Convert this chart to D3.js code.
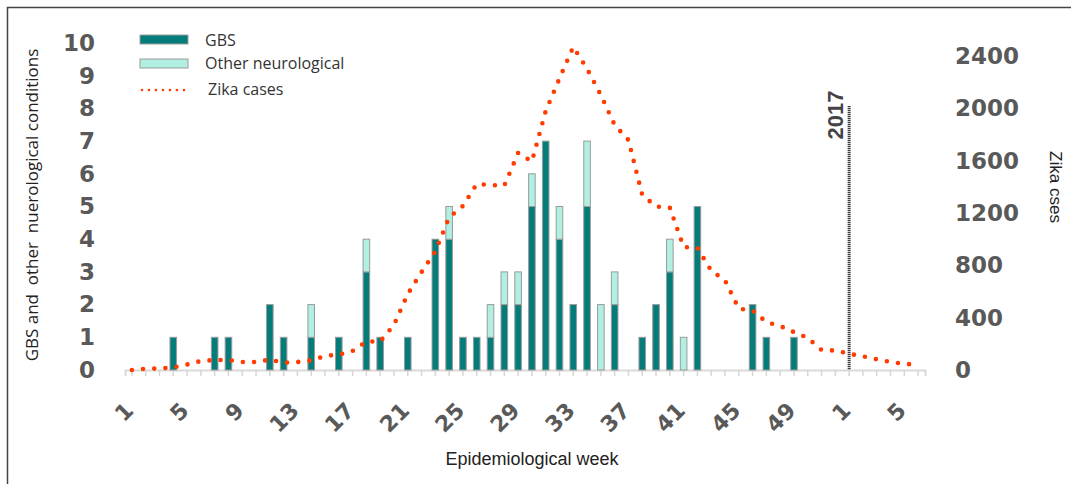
<!DOCTYPE html>
<html>
<head>
<meta charset="utf-8">
<script src="https://cdn.jsdelivr.net/npm/d3@7/dist/d3.min.js"></script>
<style>
  body { margin: 0; background: #fff; }
  svg { display: block; }
</style>
</head>
<body>
<div id="chart"></div>
<script>
// week labels: 2016 weeks 1-52, then 2017 weeks 1-6
const weekLabels = ["1","2","3","4","5","6","7","8","9","10","11","12","13","14","15","16","17","18","19","20",
  "21","22","23","24","25","26","27","28","29","30","31","32","33","34","35","36","37","38","39","40",
  "41","42","43","44","45","46","47","48","49","50","51","52","1","2","3","4","5","6"];

const gbsCases = [0,0,0,1,0,0,1,1,0,0, 2,1,0,1,0,1,0,3,1,0, 1,0,4,4,1,1,1,2,2,5,
  7,4,2,5,0,2,0,1,2,3, 0,5,0,0,0,2,1,0,1,0, 0,0, 0,0,0,0,0,0];

const otherCases = [0,0,0,0,0,0,0,0,0,0, 0,0,0,1,0,0,0,1,0,0, 0,0,0,1,0,0,1,1,1,1,
  0,1,0,2,2,1,0,0,0,1, 1,0,0,0,0,0,0,0,0,0, 0,0, 0,0,0,0,0,0];

const zikaCases = [0,10,11,19,42,69,76,76,61,61, 80,56,61,73,107,118,145,218,218,344,
  581,749,906,1167,1254,1422,1414,1409,1659,1594, 1980,2229,2470,2303,2102,1873,1758,1338,1250,1241,
  940,933,760,685,469,455,367,336,290,245, 153,149, 124,105,82,61,47,40];

const leftTicks = [0,1,2,3,4,5,6,7,8,9,10];
const rightTicks = [0,400,800,1200,1600,2000,2400];
const labelEvery = 4;
const yearMarkIndex = 52; // first week of 2017

const W = 1071, H = 484;
const svg = d3.select("#chart").append("svg")
    .attr("width", W)
    .attr("height", H);

svg.append("rect").attr("width", W).attr("height", H).attr("fill", "#fff");

// frame (top + left)
svg.append("path")
    .attr("d", "M7.5," + H + "V7.5H" + W)
    .attr("fill", "none")
    .attr("stroke", "#444")
    .attr("stroke-width", 1.5);

const idx = d3.range(weekLabels.length);

const x = d3.scaleBand()
    .domain(idx)
    .range([125, 925])
    .padding(0);

const yL = d3.scaleLinear().domain([0, 10]).range([370, 43]);
const yR = d3.scaleLinear().domain([0, 2500]).range([370, 43]);

const teal = "#047c79";
const mint = "#b0efe1";
const zikaColor = "#ff3b00";

// x axis
const xAxis = svg.append("g")
    .attr("transform", "translate(0,370)")
    .call(d3.axisBottom(x)
        .tickSize(6)
        .tickSizeOuter(6)
        .tickFormat(i => i % labelEvery === 0 ? weekLabels[i] : ""));

xAxis.select(".domain").attr("stroke", "#d9d9d9").attr("stroke-width", 2);
xAxis.selectAll(".tick line").attr("stroke", "#d6d6d6").attr("stroke-width", 1.5);
xAxis.selectAll(".tick text")
    .attr("x", 0).attr("y", 0).attr("dy", 0)
    .attr("transform", "translate(3,42) rotate(-45)")
    .attr("text-anchor", "end")
    .attr("fill", "#595959")
    .attr("font-family", "DejaVu Sans")
    .attr("font-weight", "bold")
    .attr("font-size", 22);

// stacked bars
const table = idx.map(i => ({ i: i, gbs: gbsCases[i], other: otherCases[i] }));
const stacked = d3.stack().keys(["gbs", "other"])(table);
const bw = 6.6;

svg.append("g").selectAll("g")
    .data(stacked)
    .join("g")
    .attr("fill", d => d.key === "gbs" ? teal : mint)
    .selectAll("rect")
    .data(d => d.filter(s => s[1] > s[0]))
    .join("rect")
    .attr("x", s => x(s.data.i) + x.bandwidth() / 2 - bw / 2)
    .attr("width", bw)
    .attr("y", s => yL(s[1]))
    .attr("height", s => yL(s[0]) - yL(s[1]))
    .attr("stroke", "#9b9b9b")
    .attr("stroke-width", 1);

// 2017 marker
const xm = x(yearMarkIndex) + x.bandwidth() / 2;
svg.append("line")
    .attr("x1", xm).attr("x2", xm)
    .attr("y1", 106).attr("y2", 370)
    .attr("stroke", "#3a3a3a")
    .attr("stroke-width", 3)
    .attr("stroke-dasharray", "1.2,0.8");

svg.append("text")
    .attr("transform", "translate(" + (xm - 6) + ",115) rotate(-90)")
    .attr("text-anchor", "middle")
    .attr("fill", "#444")
    .attr("font-family", "Liberation Sans")
    .attr("font-weight", "bold")
    .attr("font-size", 22)
    .text("2017");

// zika line
const line = d3.line()
    .x((d, i) => x(i) + x.bandwidth() / 2)
    .y(d => yR(d));

svg.append("path")
    .datum(zikaCases)
    .attr("d", line)
    .attr("fill", "none")
    .attr("stroke", zikaColor)
    .attr("stroke-width", 4.6)
    .attr("stroke-linecap", "round")
    .attr("stroke-dasharray", "0,11.2");

// left axis labels
const leftAxis = svg.append("g")
    .attr("transform", "translate(95,0)")
    .call(d3.axisLeft(yL).tickValues(leftTicks).tickSize(0).tickPadding(0));
leftAxis.select(".domain").remove();
leftAxis.selectAll("text")
    .attr("fill", "#595959")
    .attr("font-family", "DejaVu Sans")
    .attr("font-weight", "bold")
    .attr("font-size", 23);

// right axis labels
const rightAxis = svg.append("g")
    .attr("transform", "translate(955,0)")
    .call(d3.axisRight(yR).tickValues(rightTicks).tickFormat(d3.format("d")).tickSize(0).tickPadding(0));
rightAxis.select(".domain").remove();
rightAxis.selectAll("text")
    .attr("fill", "#595959")
    .attr("font-family", "DejaVu Sans")
    .attr("font-weight", "bold")
    .attr("font-size", 23);

// axis titles
svg.append("text")
    .attr("transform", "translate(38,205) rotate(-90)")
    .attr("text-anchor", "middle")
    .attr("fill", "#222")
    .attr("font-family", "Open Sans")
    .attr("font-size", 17)
    .style("white-space", "pre")
    .text("GBS and  other  nuerological conditions");

svg.append("text")
    .attr("transform", "translate(1050,187) rotate(90)")
    .attr("text-anchor", "middle")
    .attr("fill", "#222")
    .attr("font-family", "Liberation Sans")
    .attr("font-size", 17)
    .text("Zika cses");

svg.append("text")
    .attr("x", 532)
    .attr("y", 465)
    .attr("text-anchor", "middle")
    .attr("fill", "#222")
    .attr("font-family", "Liberation Sans")
    .attr("font-size", 18)
    .text("Epidemiological week");

// legend
const legend = svg.append("g").attr("font-family", "Open Sans").attr("font-size", 16).attr("fill", "#333");
legend.append("rect").attr("x", 140).attr("y", 35).attr("width", 48).attr("height", 9)
    .attr("fill", teal).attr("stroke", "#9b9b9b");
legend.append("text").attr("x", 205).attr("y", 46).text("GBS");
legend.append("rect").attr("x", 140).attr("y", 59).attr("width", 48).attr("height", 9)
    .attr("fill", mint).attr("stroke", "#9b9b9b");
legend.append("text").attr("x", 205).attr("y", 69).text("Other neurological");
legend.append("line").attr("x1", 142).attr("x2", 190).attr("y1", 90).attr("y2", 90)
    .attr("stroke", zikaColor).attr("stroke-width", 2.6)
    .attr("stroke-linecap", "round").attr("stroke-dasharray", "0,7");
legend.append("text").attr("x", 208).attr("y", 95).text("Zika cases");
</script>
</body>
</html>
